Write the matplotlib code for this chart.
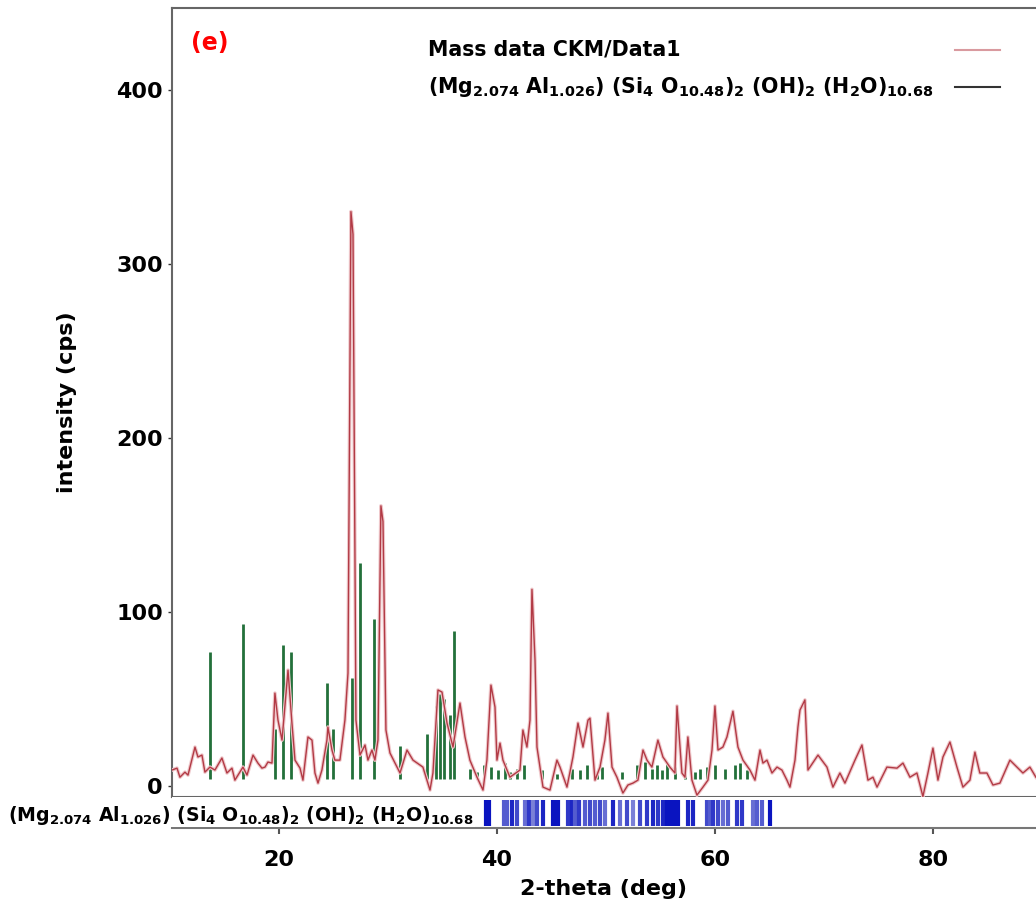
import matplotlib
matplotlib.use('Agg')
import matplotlib.pyplot as plt
from matplotlib.colors import LinearSegmentedColormap
from matplotlib.lines import Line2D
import numpy as np

# measured pattern (2-theta in deg, intensity in cps)
two_theta = [10.19, 10.65, 10.92, 11.38, 11.66, 12.30, 12.57, 12.94, 13.21, 13.67,
             14.13, 14.77, 15.23, 15.69, 15.96, 16.42, 16.70, 17.07, 17.62, 18.07,
             18.44, 18.72, 18.99, 19.36, 19.63, 19.91, 20.28, 20.83, 21.19, 21.47,
             21.93, 22.20, 22.66, 23.03, 23.30, 23.58, 23.94, 24.40, 24.49, 24.86,
             25.13, 25.59, 26.05, 26.33, 26.60, 26.79, 27.06, 27.43, 27.89, 28.16,
             28.53, 28.80, 29.08, 29.35, 29.54, 29.81, 30.18, 31.10, 31.74, 32.29,
             33.20, 33.85, 34.12, 34.58, 34.95, 35.41, 35.96, 36.60, 37.06, 37.51,
             38.16, 38.71, 39.07, 39.44, 39.81, 39.99, 40.27, 40.54, 41.18, 42.10,
             42.37, 42.74, 43.02, 43.20, 43.48, 43.66, 44.21, 44.85, 45.49, 45.77,
             46.41, 46.96, 47.42, 47.88, 48.34, 48.52, 48.98, 49.44, 49.89, 50.17,
             50.54, 50.99, 51.54, 52.00, 52.46, 52.92, 53.38, 53.75, 54.20, 54.75,
             55.21, 55.85, 56.31, 56.50, 56.95, 57.23, 57.50, 57.87, 58.33, 58.88,
             59.34, 59.71, 59.98, 60.26, 60.71, 61.08, 61.63, 62.09, 62.55, 63.19,
             63.65, 64.11, 64.38, 64.75, 65.21, 65.67, 66.12, 66.58, 66.86, 67.32,
             67.59, 67.78, 68.23, 68.51, 68.69, 69.43, 70.25, 70.80, 71.44, 71.90,
             72.82, 73.46, 74.01, 74.47, 74.84, 75.29, 75.75, 76.67, 77.22, 77.86,
             78.50, 79.05, 79.51, 79.97, 80.43, 80.89, 81.53, 82.17, 82.72, 83.36,
             83.82, 84.27, 84.92, 85.47, 86.11, 87.03, 87.67, 88.22, 88.86, 89.41]
intensity = [9.2, 10.3, 5.1, 8.0, 6.3, 22.4, 16.7, 17.8, 8.0, 10.9,
             9.2, 16.1, 7.5, 10.3, 3.4, 8.0, 10.9, 6.3, 17.8, 13.2,
             10.3, 10.9, 13.8, 13.2, 53.4, 37.9, 26.4, 66.6, 36.2, 14.9,
             10.3, 3.4, 28.2, 26.4, 7.5, 1.7, 9.2, 26.4, 33.9, 20.7,
             14.9, 14.9, 37.9, 64.9, 330.0, 317.0, 37.9, 17.8, 23.6, 14.9,
             20.7, 14.9, 26.4, 161.0, 152.0, 32.2, 19.0, 7.5, 20.7, 14.9,
             10.9, -2.3, 7.5, 55.2, 54.0, 36.2, 22.4, 47.7, 28.2, 14.9,
             5.1, -2.3, 14.9, 58.0, 45.4, 14.9, 24.7, 14.9, 5.1, 9.2,
             32.2, 22.4, 37.9, 113.0, 72.4, 22.4, -0.6, -2.3, 14.9, 10.9,
             -0.6, 16.7, 36.2, 22.4, 37.9, 39.0, 3.4, 10.9, 26.4, 41.9,
             10.9, 5.1, -4.0, 0.6, 1.7, 3.4, 20.7, 14.9, 10.9, 26.4,
             16.7, 10.9, 7.5, 46.0, 7.5, 5.1, 28.2, 3.4, -5.2, -0.6,
             3.4, 20.7, 46.0, 20.7, 22.4, 28.2, 43.0, 22.4, 14.9, 9.2,
             3.4, 20.7, 13.2, 14.9, 7.5, 10.9, 9.2, 3.4, -0.6, 14.9,
             33.9, 43.7, 49.5, 9.2, 10.9, 17.8, 10.9, -0.6, 7.5, 1.7,
             14.9, 23.6, 3.4, 5.1, -0.6, 5.1, 10.9, 10.3, 13.2, 5.1,
             7.5, -6.0, 7.5, 21.8, 3.4, 16.7, 25.3, 10.9, -0.6, 3.4,
             19.5, 7.5, 7.5, 0.6, 1.7, 14.9, 10.9, 7.5, 10.9, 5.1]

# phase sticks drawn in the pattern panel (green)
stick_pos = [13.67, 16.70, 19.63, 20.37, 21.10, 24.40, 24.95, 26.69, 27.43, 28.71,
             31.10, 33.57, 34.39, 34.76, 35.13, 35.68, 36.05, 37.51, 38.16, 38.80,
             39.44, 40.08, 40.72, 41.18, 41.82, 42.46, 44.12, 45.49, 46.87, 47.60,
             48.24, 49.16, 49.62, 51.45, 52.83, 53.56, 54.20, 54.66, 55.12, 55.58,
             56.31, 57.23, 58.15, 58.61, 59.25, 59.98, 60.90, 61.82, 62.28, 62.92]
stick_int = [77, 93, 33, 81, 77, 59, 33, 62, 128, 96,
             23, 30, 46, 53, 50, 41, 89, 10, 8, 12,
             11, 9, 13, 8, 10, 12, 9, 7, 10, 9,
             12, 8, 11, 8, 12, 14, 10, 12, 9, 13,
             11, 12, 8, 10, 11, 12, 10, 12, 13, 9]

# reference pattern sticks (blue strip): position and relative strength
ref_pos = [38.98, 39.26, 40.63, 40.91, 41.37, 41.82, 42.56, 42.93, 43.29, 43.66,
           44.21, 45.13, 45.40, 45.59, 46.50, 46.87, 47.14, 47.51, 48.06, 48.52,
           48.98, 49.44, 49.89, 50.63, 51.27, 51.91, 52.46, 53.10, 53.75, 54.30,
           54.75, 55.21, 55.58, 55.95, 56.31, 56.59, 57.51, 57.96, 59.25, 59.52,
           59.80, 60.26, 60.71, 61.17, 62.00, 62.46, 63.47, 63.83, 64.29, 65.02]
ref_str = [1.0, 1.0, 0.6, 0.6, 0.9, 0.7, 0.5, 0.8, 0.4, 0.7,
           0.9, 1.0, 1.0, 1.0, 0.8, 0.9, 0.6, 0.8, 0.6, 0.7,
           0.6, 0.7, 0.5, 0.9, 0.5, 0.7, 0.4, 0.7, 0.8, 0.9,
           0.8, 0.9, 1.0, 1.0, 1.0, 1.0, 0.9, 0.9, 0.7, 0.6,
           0.8, 0.7, 0.5, 0.6, 0.8, 0.8, 0.5, 0.6, 0.6, 1.0]

y_ticks = [0, 100, 200, 300, 400]
x_ticks = [20, 40, 60, 80]

formula = r'$(Mg_{2.074}\ Al_{1.026})\ (Si_{4}\ O_{10.48})_{2}\ (OH)_{2}\ (H_{2}O)_{10.68}$'
labels = ['Mass data CKM/Data1', formula]

plt.rcParams['mathtext.fontset'] = 'dejavusans'
plt.rcParams['mathtext.default'] = 'bf'
plt.rcParams['font.weight'] = 'bold'

fig = plt.figure(figsize=(10.36, 9.05), dpi=100)
ax = fig.add_axes([0.166, 0.1193, 0.834, 0.8719])
strip = fig.add_axes([0.166, 0.0851, 0.834, 0.0342], sharex=ax)

ax.vlines(stick_pos, 4, stick_int, color='#23703a', lw=2.0, zorder=2)
ax.plot(two_theta, intensity, color='#efc8cb', lw=2.6, zorder=3)
ax.plot(two_theta, intensity, color='#b23a45', lw=1.0, zorder=4)

ax.set_xlim(10.19, 89.42)
ax.set_ylim(-6.3, 447.0)
ax.set_yticks(y_ticks)
ax.tick_params(axis='y', labelsize=16, length=3, width=1, colors='#333333', labelcolor='black')
ax.tick_params(axis='x', bottom=False, labelbottom=False)
for s in ['left', 'top', 'bottom']:
    ax.spines[s].set_color('#666666')
    ax.spines[s].set_linewidth(1.5)
ax.spines['right'].set_visible(False)
ax.set_ylabel('intensity (cps)', fontsize=16, fontweight='bold', labelpad=28)

ax.text(0.022, 0.955, '(e)', transform=ax.transAxes, color='red', fontsize=17,
        fontweight='bold', ha='left', va='center')

# legend block: labels left aligned, handles at the right
handle_colors = ['#d99a9f', '#333333']
for lab, hc, yy in zip(labels, handle_colors, [0.9468, 0.900]):
    ax.text(0.2963, yy, lab, transform=ax.transAxes, fontsize=14.8,
            fontweight='bold', ha='left', va='center')
    ax.add_line(Line2D([0.906, 0.958], [yy, yy], transform=ax.transAxes,
                       color=hc, lw=1.5))

fig.text(0.008, 0.0994, formula, fontsize=13.6, ha='left', va='center',
         bbox=dict(facecolor='white', edgecolor='none', pad=0.5))

cmap = LinearSegmentedColormap.from_list('ref', ['#c4c8e6', '#0a14c0'])
strip.vlines(ref_pos, 0.08, 0.9, colors=cmap(np.array(ref_str)), lw=3.0)
strip.set_ylim(0, 1)
strip.set_yticks([])
strip.set_xticks(x_ticks)
strip.tick_params(axis='x', labelsize=16, length=4, width=1.5, colors='#555555',
                  labelcolor='black', pad=12)
for s in ['left', 'right', 'top']:
    strip.spines[s].set_visible(False)
strip.spines['bottom'].set_color('#777777')
strip.spines['bottom'].set_linewidth(1.5)
strip.set_xlabel('2-theta (deg)', fontsize=16, fontweight='bold', labelpad=6)

fig.savefig('out.png', dpi=100)
